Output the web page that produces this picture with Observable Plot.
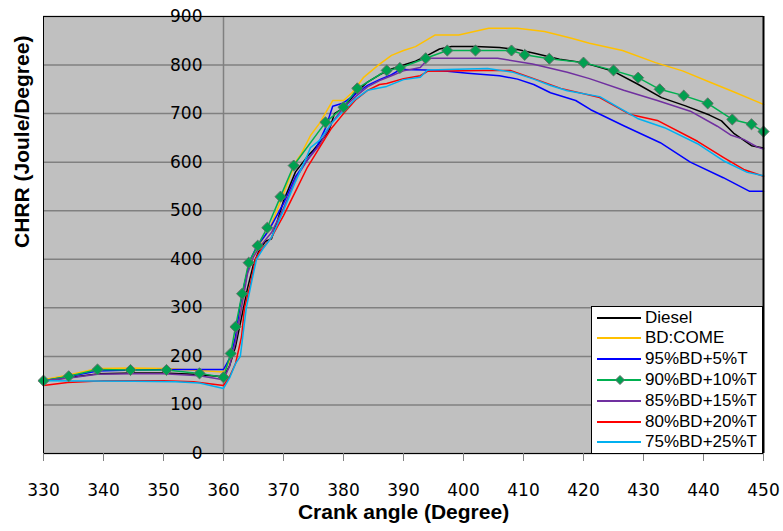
<!DOCTYPE html>
<html><head><meta charset="utf-8">
<script src="https://cdn.jsdelivr.net/npm/d3@7"></script>
<script src="https://cdn.jsdelivr.net/npm/@observablehq/plot@0.6"></script>
<style>
body{margin:0;background:#fff;}
#wrap{position:relative;width:783px;height:531px;}
#legend{position:absolute;left:591px;top:306px;width:170px;height:146px;background:#fff;border:1.5px solid #000;font-family:"Liberation Sans",Arial,sans-serif;font-size:17px;color:#000;}
.row{position:absolute;left:0;height:21px;display:flex;align-items:center;white-space:nowrap;}
.row svg{margin-left:5px;margin-right:4px;}
</style>
</head><body>
<div id="wrap"></div>
<script>
// Crank angle (degree), CHRR (J/degree)
const diesel = [[330,150],[334,156],[339,164],[345,166],[350,166],[355,163],[360,158],[361,180],[362,220],[363,280],[364,340],[365,390],[366,420],[367,437],[368,442],[369,480],[370,520],[372,580],[374,612],[375,625],[376,640],[377.5,662],[378.5,700],[380,712],[382,742],[384,765],[386,780],[388,792],[390,800],[392,808],[394,820],[396,833],[398,838],[402,838],[406,836],[409,832],[412,824],[416,812],[420,805],[425,787],[429,761],[433,733],[437,716],[441,697],[443,685],[445,660],[448,634],[450,629]];
const bdCome = [[330,152],[334,161],[339,175],[344.5,176],[350.5,175],[356,171],[360,168],[361,190],[362,245],[363,310],[364,380],[366,430],[368,472],[370,535],[372,600],[373,618],[374.5,655],[376,680],[378.2,727],[380,727],[381.5,744],[383.3,774],[385.8,800],[388,820],[390,830],[392,838],[395.3,862],[399.2,862],[404.2,876],[409,876],[413.5,869],[418,855],[421,845],[426.5,830],[432,805],[436.5,788],[441,765],[445,745],[450,719]];
const bd95 = [[330,150],[334,158],[339,170],[345,172],[352,173],[360,173],[361.2,200],[362,240],[362.7,300],[363.5,350],[364.5,400],[365.5,425],[367,450],[368,470],[370,515],[372,570],[374,605],[375.5,630],[377,670],[378.2,715],[380,722],[382,740],[384,758],[386,770],[388,780],[389.5,791],[393.7,790],[397.3,787],[400.7,783],[406,778],[409,771],[411.7,760],[414.5,743],[418.7,727],[421.2,708],[426.7,675],[432.8,640],[437.8,600],[443.3,568],[447.7,540],[450,540]];
const bd90 = [[330,150],[334.2,159],[339,173],[344.5,172],[350.5,172],[356,165],[360,157],[361.2,206],[362,261],[363.1,329],[364.2,393],[365.7,428],[367.3,465],[369.5,529],[371.7,593],[377,682],[380,713],[382.3,752],[387.2,789],[389.4,794],[393.7,814],[397.3,830],[402,830],[408,830],[410.2,821],[414.3,813],[420,805],[425,789],[429.1,774],[432.7,750],[436.7,737],[440.7,721],[444.8,688],[448,678],[450,663]];
const bd85 = [[330,150],[334,155],[339,163],[345,164],[350,164],[356,160],[360,152],[361,180],[362,230],[363,300],[364,370],[365,405],[366,425],[368,455],[370,505],[372,565],[374,605],[376,635],[378,680],[380,712],[382,735],[384,755],[386,768],[388,778],[390,788],[392.8,795],[394.2,814],[405.7,814],[411.5,802],[417.3,785],[421,772],[426.7,748],[432.3,727],[437.8,705],[442.3,674],[444.5,656],[446.7,647],[449,631],[450,627]];
const bd80 = [[330,140],[334,146],[340,150],[350,150],[355,148],[360,140],[361,158],[362,185],[363,240],[363.5,300],[364.5,350],[365.3,400],[366,415],[368,445],[370,490],[372,540],[374,590],[376,630],[378,670],[380,700],[382,728],[384,748],[386,760],[387.2,762],[390,772],[392.8,778],[394,787],[403.3,789],[407.8,789],[411.7,772],[416.2,752],[422.7,733],[427.8,698],[432.3,686],[439,643],[443.3,610],[446.7,585],[450,571]];
const bd75 = [[330,150],[345,149],[352,148],[356,145],[360,134],[361,155],[362,185],[362.8,200],[363.8,300],[364.8,360],[365.5,400],[366.5,420],[368,445],[370,500],[372,560],[374,615],[374.5,630],[376,645],[378,680],[380,706],[382,730],[384,748],[387.2,756],[390,770],[392.8,775],[394,790],[404,793],[408.3,785],[411.7,771],[414.5,758],[417.3,747],[422.7,735],[429,690],[433.5,671],[439,638],[443.3,603],[447.3,579],[450,572]];

const seriesNames = ["Diesel","BD:COME","95%BD+5%T","90%BD+10%T","85%BD+15%T","80%BD+20%T","75%BD+25%T"];
const seriesColors = ["#000000","#ffc000","#0000ff","#00b050","#7030a0","#ff0000","#00b0f0"];
const seriesData = [diesel, bdCome, bd95, bd90, bd85, bd80, bd75];
const xTicks = [330,340,350,360,370,380,390,400,410,420,430,440,450];
const yTicks = [0,100,200,300,400,500,600,700,800,900];
const xTitle = "Crank angle (Degree)";
const yTitle = "CHRR (Joule/Degree)";

const rows = seriesData.flatMap((arr, i) => arr.map(([a, v]) => ({series: seriesNames[i], angle: a, value: v})));
const markerRows = rows.filter(d => d.series === "90%BD+10%T");

const chart = Plot.plot({
  width: 783, height: 531,
  marginLeft: 43, marginRight: 20, marginTop: 16, marginBottom: 78,
  x: {domain: [330, 450]},
  y: {domain: [0, 900], axis: null},
  color: {domain: seriesNames, range: seriesColors},
  style: {fontFamily: "'DejaVu Sans', Verdana, sans-serif", fontSize: "17px", background: "white", color: "#000", overflow: "visible"},
  marks: [
    Plot.frame({fill: "#c0c0c0", stroke: null}),
    Plot.ruleY(yTicks, {stroke: "#808080", strokeWidth: 1.5}),
    Plot.ruleX([360], {stroke: "#808080", strokeWidth: 1.5}),
    Plot.line(rows, {x: "angle", y: "value", z: "series", stroke: "series", strokeWidth: 1.5}),
    Plot.dot(markerRows, {x: "angle", y: "value", symbol: "diamond2", r: 5, fill: "#00a050", stroke: "#607068", strokeWidth: 1}),
    Plot.frame({stroke: "#000", strokeWidth: 1}),
    Plot.ruleX([450], {stroke: "#000", strokeWidth: 2}),
    Plot.text(yTicks, {x: 360, y: d => d, text: d => String(d), textAnchor: "end", dx: -21, fontSize: 17, fill: "#000"}),
    Plot.axisX({ticks: xTicks, tickSize: 8, tickPadding: 22, stroke: "#808080", fill: "#000", label: null, fontSize: 17, tickFormat: d => String(d)}),
    Plot.text([xTitle], {frameAnchor: "bottom", dy: 65, fontWeight: "bold", fontSize: 21, fontFamily: "'Liberation Sans', Arial, sans-serif", fill: "#000"}),
    Plot.text([yTitle], {frameAnchor: "left", rotate: -90, dx: -21, dy: 13, fontWeight: "bold", fontSize: 21, fontFamily: "'Liberation Sans', Arial, sans-serif", fill: "#000"})
  ]
});
const wrap = document.getElementById("wrap");
wrap.appendChild(chart);

// legend
const legend = document.createElement("div");
legend.id = "legend";
seriesNames.forEach((name, i) => {
  const row = document.createElement("div");
  row.className = "row";
  row.style.top = (i * 20.8) + "px";
  const marker = name === "90%BD+10%T" ? `<path d="M23,3.5 L27.5,8 L23,12.5 L18.5,8 Z" fill="#00a050" stroke="#607068" stroke-width="1"/>` : "";
  row.innerHTML = `<svg width="44" height="16"><line x1="0" x2="44" y1="8" y2="8" stroke="${seriesColors[i]}" stroke-width="2"/>${marker}</svg><span>${name}</span>`;
  legend.appendChild(row);
});
wrap.appendChild(legend);
</script>
</body></html>
